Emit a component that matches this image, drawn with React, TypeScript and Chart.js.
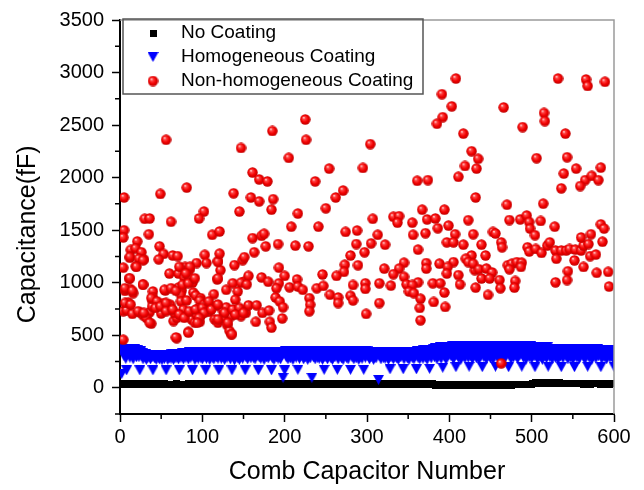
import React, { useEffect, useRef } from 'react';
import { Chart, registerables } from 'chart.js';

Chart.register(...registerables);

const FONT = "'Liberation Sans', Arial, Helvetica, sans-serif";

// minor tick positions (major ones are labelled by the scales)
const xMinorTicks = [50, 150, 250, 350, 450, 550];
const yMinorTicks = [-250, 250, 750, 1250, 1750, 2250, 2750, 3250];

// No Coating: capacitors 1..600
const noCoating: number[] = [
  33,36,31,35,38,32,34,37,33,35,31,36,34,38,32,35,33,37,34,36,
  32,35,37,33,34,36,31,35,38,33,36,32,34,37,35,33,36,31,35,34,
  31,34,36,32,33,35,30,34,37,32,35,31,33,36,34,32,35,30,34,33,
  30,33,35,31,32,34,29,33,36,31,34,30,32,35,33,31,34,29,33,32,
  31,34,36,32,33,35,30,34,37,32,35,31,33,36,34,32,35,30,34,33,
  32,35,37,33,34,36,31,35,38,33,36,32,34,37,35,33,36,31,35,34,
  33,36,31,35,38,32,34,37,33,35,31,36,34,38,32,35,33,37,34,36,
  34,37,32,36,39,33,35,38,34,36,32,37,35,39,33,36,34,38,35,37,
  33,36,31,35,38,32,34,37,33,35,31,36,34,38,32,35,33,37,34,36,
  34,37,32,36,39,33,35,38,34,36,32,37,35,39,33,36,34,38,35,37,
  35,38,33,37,40,34,36,39,35,37,33,38,36,40,34,37,35,39,36,38,
  35,38,33,37,40,34,36,39,35,37,33,38,36,40,34,37,35,39,36,38,
  34,37,32,36,39,33,35,38,34,36,32,37,35,39,33,36,34,38,35,37,
  35,38,33,37,40,34,36,39,35,37,33,38,36,40,34,37,35,39,36,38,
  36,39,34,38,41,35,37,40,36,38,34,39,37,41,35,38,36,40,37,39,
  36,39,34,38,41,35,37,40,36,38,34,39,37,41,35,38,36,40,37,39,
  35,38,33,37,40,34,36,39,35,37,33,38,36,40,34,37,35,39,36,38,
  34,37,32,36,39,33,35,38,34,36,32,37,35,39,33,36,34,38,35,37,
  33,36,31,35,38,32,34,37,33,35,31,36,34,38,32,35,33,37,34,36,
  27,30,25,29,32,26,28,31,27,29,25,30,28,32,26,29,27,31,28,30,
  26,29,24,28,31,25,27,30,26,28,24,29,27,31,25,28,26,30,27,29,
  25,28,23,27,30,24,26,29,25,27,23,28,26,30,24,27,25,29,26,28,
  26,29,24,28,31,25,27,30,26,28,24,29,27,31,25,28,26,30,27,29,
  27,30,25,29,32,26,28,31,27,29,25,30,28,32,26,29,27,31,28,30,
  29,32,27,31,34,28,30,33,29,31,27,32,30,34,28,31,29,33,31,35,
  42,45,40,44,47,41,43,46,42,44,40,45,43,47,41,44,42,46,43,45,
  41,44,39,43,46,40,42,45,41,43,39,44,42,46,40,43,41,45,42,44,
  39,42,37,41,44,38,40,43,39,41,37,42,40,44,38,41,39,43,40,42,
  37,40,35,39,42,36,38,41,37,39,35,40,38,42,36,39,37,41,38,40,
  36,39,34,38,41,35,37,40,36,38,34,39,37,41,35,38,36,40,37,39,
];

// Homogeneous Coating: capacitors 1..600
const homogeneousCoating: number[] = [
  365,130,340,370,300,355,275,165,360,320,370,285,345,365,305,270,350,370,330,290,
  355,330,290,165,345,300,330,270,315,290,320,265,310,285,315,300,270,310,290,165,
  305,280,315,265,300,315,285,270,310,295,260,315,290,275,310,165,300,265,315,285,
  310,275,320,295,265,315,300,280,325,290,270,165,320,285,305,330,270,300,325,285,
  335,300,270,340,310,285,325,165,300,340,265,320,290,335,275,310,340,285,320,270,
  330,290,340,165,275,320,300,340,265,310,335,285,320,270,340,300,290,330,275,165,
  340,300,275,325,290,340,265,310,335,285,320,300,340,270,315,165,335,290,260,325,
  300,340,280,320,265,335,295,340,275,310,325,165,290,340,270,320,305,335,280,315,
  340,285,320,270,335,300,315,165,290,340,275,325,305,340,265,310,335,290,320,280,
  325,300,340,165,280,335,265,310,340,290,320,275,335,300,270,340,310,95,330,165,
  345,290,320,270,340,305,280,345,315,265,335,300,345,285,325,170,340,275,310,345,
  300,345,270,330,290,345,315,265,340,300,280,325,95,345,290,335,270,345,310,285,
  345,275,320,300,340,265,330,170,290,345,310,270,335,300,345,280,320,265,340,305,
  290,345,315,170,270,340,300,335,280,345,265,320,305,345,285,330,270,340,310,170,
  345,290,325,270,340,305,280,345,315,265,335,295,345,275,320,170,340,285,310,345,
  300,340,270,325,290,340,310,265,335,295,280,320,340,75,300,335,270,315,340,285,
  335,275,320,300,340,265,315,175,290,340,305,270,330,295,340,280,320,265,335,300,
  290,340,310,175,270,335,300,340,280,325,265,340,305,315,285,340,270,330,300,175,
  345,285,330,270,350,300,335,275,355,310,290,345,265,355,300,180,350,280,360,320,
  365,290,375,320,270,380,300,345,385,275,330,190,370,300,385,265,345,390,310,355,
  390,300,350,395,270,335,380,195,310,395,285,360,395,265,340,390,305,375,280,395,
  350,395,285,200,370,300,395,270,345,390,310,365,280,395,330,265,385,300,360,195,
  395,290,355,380,270,340,395,305,365,280,390,315,265,395,335,200,370,295,395,275,
  340,390,300,370,265,395,320,285,380,350,395,195,310,390,270,360,395,290,345,385,
  300,395,275,355,390,315,370,200,395,285,340,390,265,380,310,395,290,360,395,275,
  370,385,300,195,345,385,270,360,380,290,385,320,265,375,385,305,350,280,385,200,
  365,290,340,370,270,355,310,365,285,345,365,265,330,360,300,195,365,280,350,320,
  365,300,345,270,360,320,290,365,335,265,355,195,310,365,285,340,365,275,320,360,
  340,365,290,355,270,365,315,200,350,285,365,330,265,360,300,345,365,280,335,365,
  300,360,330,195,275,360,345,290,360,315,270,355,335,360,285,350,300,360,270,200,
];

// Non-homogeneous Coating: [capacitor number, capacitance]
const nonHomogeneousCoating: [number, number][] = [
  [56,2360],[5,1811],[49,1845],[81,1905],[102,1677],[96,1611],[30,1608],[36,1611],[62,1580],[5,1499],
  [4,1430],[35,1461],[112,1456],[121,1487],[21,1393],[48,1346],[13,1312],[19,1327],[26,1290],[12,1237],
  [29,1222],[19,1156],[53,1274],[64,1259],[70,1253],[47,1222],[103,1265],[105,1187],[119,1206],[122,1119],
  [93,1187],[4,1143],[79,1150],[85,1128],[11,1040],[60,1087],[71,1087],[78,1050],[84,1050],[88,1000],
  [118,1031],[6,922],[12,941],[16,900],[28,984],[40,916],[55,925],[71,953],[75,925],[74,885],
  [89,906],[92,878],[98,853],[114,890],[129,932],[10,813],[4,728],[8,738],[15,703],[24,719],
  [28,691],[36,719],[32,666],[38,610],[40,862],[40,822],[39,775],[53,806],[61,791],[59,744],
  [50,707],[65,635],[69,666],[66,713],[69,473],[83,532],[74,822],[81,831],[77,744],[83,697],
  [87,651],[91,619],[97,628],[93,697],[97,829],[102,791],[108,722],[118,785],[125,735],[129,766],
  [135,682],[138,729],[130,598],[133,541],[115,651],[119,619],[125,666],[95,754],[99,697],[4,457],
  [12,1245],[23,1229],[28,1214],[12,1042],[20,1151],[28,980],[6,948],[15,923],[54,932],[38,854],
  [45,823],[62,948],[68,923],[76,980],[83,995],[72,1151],[85,1151],[80,1089],[91,1042],[119,1198],
  [121,1276],[119,1042],[139,1167],[149,1214],[137,995],[151,1011],[6,807],[13,792],[22,729],[29,713],
  [43,760],[49,776],[56,807],[56,729],[36,619],[64,745],[72,698],[78,666],[84,729],[92,745],
  [100,760],[108,823],[102,713],[96,666],[94,619],[111,745],[119,792],[127,713],[137,745],[145,760],
  [119,651],[131,619],[135,510],[147,682],[153,713],[68,479],[83,525],
  [225,2553],[226,2360],[185,2444],[147,2282],[205,2188],[254,2086],[161,2048],[169,1983],[179,1964],[237,1964],
  [138,1851],[159,1811],[169,1774],[186,1795],[271,1877],[262,1811],[145,1677],[184,1695],[216,1658],[250,1708],
  [208,1533],[241,1533],[274,1484],[288,1496],[161,1424],[172,1446],[175,1465],[177,1346],[192,1368],[213,1353],
  [229,1346],[287,1368],[163,1290],[151,1243],[280,1259],[289,1166],[193,1143],[156,1065],[172,1050],[180,1009],
  [200,1065],[273,1171],[272,1103],[246,1078],[263,1065],[147,1000],[154,984],[193,994],[215,1031],[283,978],
  [143,916],[140,838],[190,947],[189,859],[206,956],[216,963],[222,932],[230,853],[239,947],[247,969],
  [255,885],[265,859],[265,806],[280,875],[283,831],[194,822],[198,766],[231,791],[230,728],[156,785],
  [166,785],[140,697],[150,713],[173,713],[181,735],[165,628],[182,628],[184,572],[197,660],[136,510],
  [408,2943],[391,2794],[403,2678],[392,2575],[385,2513],[304,2319],[295,2092],[417,2419],[427,2251],[435,2179],
  [419,2111],[433,2086],[411,2008],[361,1970],[374,1976],[432,1811],[367,1695],[394,1695],[307,1608],[332,1627],
  [339,1633],[337,1571],[355,1571],[373,1602],[383,1611],[423,1595],[356,1456],[371,1471],[386,1518],[399,1543],
  [313,1456],[429,1461],[407,1461],[397,1384],[405,1384],[417,1362],[305,1374],[322,1362],[297,1290],[362,1315],
  [427,1259],[420,1228],[321,1134],[345,1190],[339,1134],[332,1081],[372,1187],[372,1134],[388,1181],[405,1196],
  [398,1150],[397,1087],[411,1072],[423,1196],[431,1119],[345,1056],[348,984],[329,972],[315,994],[298,994],
  [298,941],[362,1003],[355,978],[351,916],[357,900],[380,994],[389,994],[394,906],[413,984],[432,953],
  [315,806],[299,703],[365,847],[364,760],[365,642],[381,816],[395,769],
  [532,2943],[566,2934],[568,2872],[589,2912],[466,2668],[515,2616],[516,2538],[489,2481],[541,2419],[506,2185],
  [543,2194],[539,2039],[554,2086],[565,1976],[559,1920],[573,2017],[581,1976],[584,2095],[536,1898],[470,1742],
  [514,1752],[473,1596],[486,1602],[494,1639],[497,1577],[498,1515],[504,1452],[511,1587],[528,1533],[584,1555],
  [588,1515],[439,1362],[444,1259],[429,1181],[436,1128],[445,1134],[452,1097],[461,1025],[439,1040],[449,1040],
  [447,884],[462,947],[453,1483],[456,1468],[463,1384],[464,1337],[471,1166],[476,1181],[482,1196],[488,1190],
  [487,1150],[473,1128],[480,1016],[479,953],[495,1337],[497,1297],[505,1321],[512,1284],[519,1353],[522,1384],
  [529,1306],[530,1228],[536,1306],[542,1306],[546,1321],[553,1315],[560,1306],[563,1353],[569,1368],[572,1461],
  [560,1430],[586,1390],[571,1253],[578,1268],[552,1212],[563,1150],[544,1109],[543,1025],[529,1003],[579,1094],
  [593,1103],[594,963],[463,232],
];

function makeMarker(w: number, h: number, paint: (g: CanvasRenderingContext2D) => void): HTMLCanvasElement {
  const c = document.createElement('canvas');
  c.width = w;
  c.height = h;
  const g = c.getContext('2d');
  if (g) paint(g);
  return c;
}

export default function App() {
  const ref = useRef<HTMLCanvasElement | null>(null);

  useEffect(() => {
    const canvas = ref.current;
    if (!canvas) return;

    const square = makeMarker(7, 7, (g) => {
      g.fillStyle = '#000000';
      g.fillRect(0, 0, 7, 7);
    });
    const triangle = makeMarker(11, 10, (g) => {
      g.fillStyle = '#0000ff';
      g.beginPath();
      g.moveTo(0, 0);
      g.lineTo(11, 0);
      g.lineTo(5.5, 10);
      g.closePath();
      g.fill();
    });
    const sphere = makeMarker(11, 11, (g) => {
      const grd = g.createRadialGradient(3.9, 3.6, 0.2, 5.5, 5.5, 5.6);
      grd.addColorStop(0, '#ffe8e8');
      grd.addColorStop(0.2, '#ff4a4a');
      grd.addColorStop(0.6, '#f20000');
      grd.addColorStop(1, '#b80000');
      g.fillStyle = grd;
      g.beginPath();
      g.arc(5.5, 5.5, 5.2, 0, Math.PI * 2);
      g.fill();
    });

    const decor = {
      id: 'decor',
      afterLayout(chart: any) {
        const lg = chart.legend;
        if (lg) {
          lg.left = 129.5;
          lg.top = 18.5;
          lg.right = 640;
          lg.bottom = 480;
        }
      },
      afterDraw(chart: any) {
        const { ctx, chartArea, scales } = chart;
        const { left, right, top, bottom } = chartArea;
        ctx.save();
        ctx.strokeStyle = '#9a9a9a';
        ctx.lineWidth = 1.5;
        ctx.beginPath();
        ctx.moveTo(left, top);
        ctx.lineTo(right, top);
        ctx.lineTo(right, bottom);
        ctx.stroke();
        ctx.strokeStyle = '#000000';
        ctx.lineWidth = 1.5;
        ctx.beginPath();
        for (const v of xMinorTicks) {
          const px = scales.x.getPixelForValue(v);
          ctx.moveTo(px, bottom);
          ctx.lineTo(px, bottom + 5);
        }
        for (const v of yMinorTicks) {
          const py = scales.y.getPixelForValue(v);
          ctx.moveTo(left, py);
          ctx.lineTo(left - 5, py);
        }
        ctx.stroke();
        ctx.strokeStyle = '#555555';
        ctx.lineWidth = 1.5;
        ctx.strokeRect(123, 19, 300, 75);
        ctx.restore();
      },
    };

    const chart = new Chart(canvas, {
      type: 'scatter',
      data: {
        datasets: [
          {
            label: 'No Coating',
            data: noCoating.map((v, i) => ({ x: i + 1, y: v })),
            pointStyle: square as any,
            pointRadius: 4,
            backgroundColor: '#000000',
            borderColor: '#000000',
            order: 2,
          },
          {
            label: 'Homogeneous Coating',
            data: homogeneousCoating.map((v, i) => ({ x: i + 1, y: v })),
            pointStyle: triangle as any,
            pointRadius: 5,
            backgroundColor: '#0000ff',
            borderColor: '#0000ff',
            order: 1,
          },
          {
            label: 'Non-homogeneous Coating',
            data: nonHomogeneousCoating.map(([x, y]) => ({ x, y })),
            pointStyle: sphere as any,
            pointRadius: 5,
            backgroundColor: '#ff0000',
            borderColor: '#ff0000',
            order: 0,
          },
        ],
      },
      options: {
        responsive: false,
        animation: false,
        devicePixelRatio: 1,
        events: [],
        layout: { padding: { left: 0, right: 30, top: 14, bottom: 0 } },
        plugins: {
          tooltip: { enabled: false },
          legend: {
            position: 'chartArea' as any,
            align: 'start',
            labels: {
              usePointStyle: true,
              pointStyleWidth: 37,
              padding: 5,
              color: '#000000',
              font: { family: FONT, size: 19 },
              sort: (a: any, b: any) => a.datasetIndex - b.datasetIndex,
            },
          },
        },
        scales: {
          x: {
            type: 'linear',
            min: 0,
            max: 600,
            afterFit: (s: any) => { s.height = 76; },
            ticks: {
              stepSize: 100,
              autoSkip: false,
              maxRotation: 0,
              padding: 3,
              color: '#000000',
              font: { family: FONT, size: 20 },
            },
            grid: {
              drawOnChartArea: false,
              drawTicks: true,
              tickLength: 8,
              tickWidth: 1.5,
              tickColor: '#000000',
            },
            border: { display: true, color: '#000000', width: 2 },
            title: {
              display: true,
              text: 'Comb Capacitor Number',
              color: '#000000',
              font: { family: FONT, size: 25 },
              padding: { top: 0, bottom: 3 },
            },
          },
          y: {
            type: 'linear',
            min: -250,
            max: 3500,
            afterFit: (s: any) => { s.width = 120; },
            ticks: {
              stepSize: 250,
              autoSkip: false,
              padding: 8,
              color: '#000000',
              font: { family: FONT, size: 20 },
              callback: (v: any) => (Number(v) % 500 === 0 ? String(v) : ''),
            },
            grid: {
              drawOnChartArea: false,
              drawTicks: true,
              tickLength: 8,
              tickWidth: 1.5,
              tickColor: (c: any) => (c.tick && c.tick.value % 500 === 0 ? '#000000' : 'rgba(0,0,0,0)'),
            },
            border: { display: true, color: '#000000', width: 2 },
            title: {
              display: true,
              text: 'Capacitance(fF)' + '\u00a0\u00a0\u00a0\u00a0\u00a0',
              color: '#000000',
              font: { family: FONT, size: 25 },
              padding: { top: 13, bottom: 0 },
            },
          },
        },
      },
      plugins: [decor],
    });

    return () => {
      chart.destroy();
    };
  }, []);

  return (
    <canvas
      ref={ref}
      width={644}
      height={490}
      style={{ position: 'absolute', left: 0, top: 0, display: 'block' }}
    />
  );
}
